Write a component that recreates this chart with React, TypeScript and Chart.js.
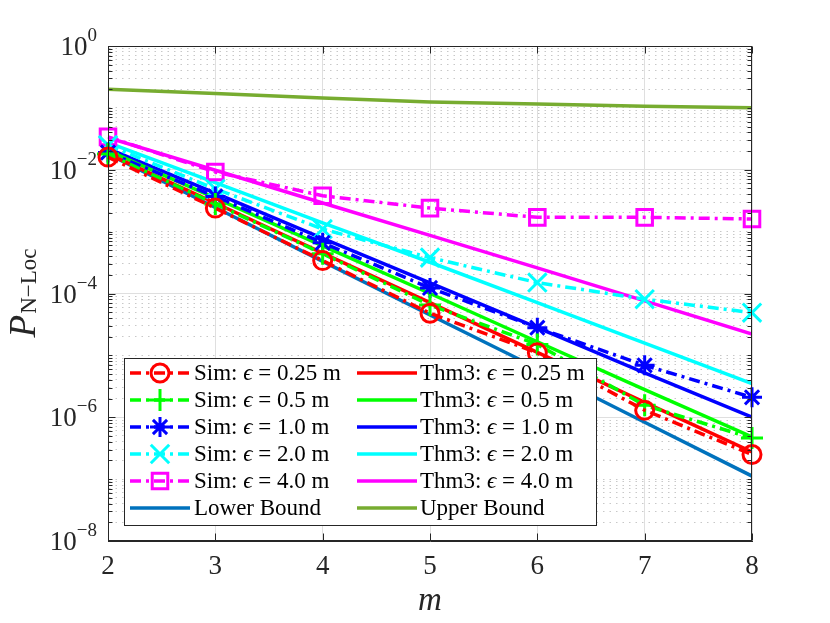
import { useEffect, useRef } from "react";
import { Chart, registerables } from "chart.js";
import { drawPoint } from "chart.js/helpers";

Chart.register(...registerables);

const SERIF = '"Liberation Serif", "DejaVu Serif", serif';
const AXIS = "#262626";

// x positions (m) and y decades that carry a label
const mValues = [2, 3, 4, 5, 6, 7, 8];
const yMajorExps = [0, -2, -4, -6, -8];

// simulation results
const sim025 = [0.016, 0.0024, 3.4e-4, 4.8e-5, 1.1e-5, 1.3e-6, 2.5e-7];
const sim05 = [0.018, 0.0028, 4.4e-4, 6.5e-5, 1.5e-5, 1.56e-6, 4.6e-7];
const sim10 = [0.019, 0.0037, 6.6e-4, 1.23e-4, 2.8e-5, 6.9e-6, 2.1e-6];
const sim20 = [0.025, 0.0049, 0.0011, 3.8e-4, 1.5e-4, 8.1e-5, 4.9e-5];
const sim40 = [0.034, 0.0092, 0.0038, 0.0024, 0.0017, 0.0017, 0.0016];

// Theorem 3
const thm025 = [0.018, 0.0029, 4.5e-4, 7.1e-5, 1.12e-5, 1.74e-6, 2.75e-7];
const thm05 = [0.0204, 0.00347, 5.9e-4, 1.0e-4, 1.66e-5, 2.8e-6, 4.8e-7];
const thm10 = [0.0219, 0.0042, 7.8e-4, 1.48e-4, 2.8e-5, 5.2e-6, 1.0e-6];
const thm20 = [0.0275, 0.0062, 0.00138, 3.2e-4, 7.1e-5, 1.58e-5, 3.5e-6];
const thm40 = [0.033, 0.0098, 0.0029, 8.7e-4, 2.6e-4, 7.6e-5, 2.2e-5];

// bounds
const lowerBound = [0.018, 0.00245, 3.3e-4, 4.5e-5, 6.2e-6, 8.3e-7, 1.12e-7];
const upperBound = [0.2, 0.17, 0.145, 0.125, 0.115, 0.106, 0.1];

const DASH_DOT = [11, 5, 3, 5];
const LW = 3.5;

function toPoints(ys: number[]) {
  return ys.map((y, i) => ({ x: mValues[i], y }));
}

function simSet(label: string, color: string, ys: number[], style: string, radius: number) {
  return {
    label,
    data: toPoints(ys),
    borderColor: color,
    borderWidth: LW,
    borderDash: DASH_DOT,
    pointStyle: style,
    pointRadius: radius,
    pointBorderWidth: 3,
    pointBorderColor: color,
    pointBackgroundColor: "rgba(0,0,0,0)",
    fill: false,
    clip: false,
    order: 0,
  };
}

function lineSet(label: string, color: string, ys: number[], order = 1) {
  return {
    label,
    data: toPoints(ys),
    borderColor: color,
    borderWidth: LW,
    pointRadius: 0,
    fill: false,
    order,
  };
}

const isMajorY = (v: number) => yMajorExps.some((e) => Math.abs(Math.log10(v) - e) < 1e-6);

function drawMathLabel(ctx: CanvasRenderingContext2D, label: string, x: number, y: number, size: number) {
  const parts = label.split("ϵ");
  let cx = x;
  parts.forEach((p, i) => {
    ctx.font = `${size}px ${SERIF}`;
    ctx.fillText(p, cx, y);
    cx += ctx.measureText(p).width;
    if (i < parts.length - 1) {
      ctx.font = `italic ${size}px ${SERIF}`;
      ctx.fillText("ϵ", cx, y);
      cx += ctx.measureText("ϵ").width;
    }
  });
}

const framePlugin = {
  id: "frameAndLegend",
  afterDatasetsDraw(chart: any) {
    const ctx: CanvasRenderingContext2D = chart.ctx;
    const { left, right, top, bottom } = chart.chartArea;
    const xs = chart.scales.x;
    const ys = chart.scales.y;
    ctx.save();
    ctx.strokeStyle = AXIS;
    ctx.lineWidth = 1;
    ctx.setLineDash([]);
    const L = Math.round(left) + 0.5, R = Math.round(right) - 0.5;
    const T = Math.round(top) + 0.5, B = Math.round(bottom) - 0.5;
    ctx.strokeRect(L, T, R - L, B - T);
    ctx.beginPath();
    mValues.forEach((v) => {
      const px = Math.round(xs.getPixelForValue(v)) + 0.5;
      ctx.moveTo(px, B);
      ctx.lineTo(px, B - 7);
      ctx.moveTo(px, T);
      ctx.lineTo(px, T + 7);
    });
    ys.ticks.forEach((t: any) => {
      const py = Math.round(ys.getPixelForValue(t.value)) + 0.5;
      const len = isMajorY(t.value) ? 7 : 4;
      ctx.moveTo(L, py);
      ctx.lineTo(L + len, py);
      ctx.moveTo(R, py);
      ctx.lineTo(R - len, py);
    });
    ctx.stroke();

    // legend
    const bx = 124, by = 358, bw = 472, bh = 167;
    ctx.fillStyle = "#ffffff";
    ctx.fillRect(bx, by, bw, bh);
    ctx.strokeStyle = AXIS;
    ctx.strokeRect(bx + 0.5, by + 0.5, bw, bh);
    const datasets = chart.data.datasets;
    const cols = [
      { lineX: 130, textX: 194, items: [0, 1, 2, 3, 4, 10] },
      { lineX: 357, textX: 420, items: [5, 6, 7, 8, 9, 11] },
    ];
    cols.forEach((col) => {
      col.items.forEach((idx, r) => {
        const ds = datasets[idx];
        const y = by + 15 + r * 27;
        ctx.save();
        ctx.strokeStyle = ds.borderColor;
        ctx.lineWidth = ds.borderWidth;
        ctx.setLineDash(ds.borderDash || []);
        ctx.beginPath();
        ctx.moveTo(col.lineX, y);
        ctx.lineTo(col.lineX + 60, y);
        ctx.stroke();
        ctx.setLineDash([]);
        if (ds.pointRadius > 0) {
          ctx.lineWidth = ds.pointBorderWidth;
          ctx.fillStyle = "rgba(0,0,0,0)";
          drawPoint(ctx, { pointStyle: ds.pointStyle, radius: ds.pointRadius, borderWidth: ds.pointBorderWidth, rotation: 0 } as any, col.lineX + 30, y);
        }
        ctx.restore();
        ctx.fillStyle = "#000000";
        ctx.textBaseline = "middle";
        ctx.textAlign = "left";
        drawMathLabel(ctx, ds.label, col.textX, y + 1, 23);
      });
    });
    ctx.restore();
  },
  afterDraw(chart: any) {
    const ctx: CanvasRenderingContext2D = chart.ctx;
    const ys = chart.scales.y;
    const left = chart.chartArea.left;
    ctx.save();
    ctx.fillStyle = AXIS;
    ctx.textBaseline = "alphabetic";
    ctx.textAlign = "left";
    yMajorExps.forEach((e) => {
      const py = ys.getPixelForValue(Math.pow(10, e));
      const expText = e === 0 ? "0" : "\u2212" + String(-e);
      ctx.font = `19px ${SERIF}`;
      const ew = ctx.measureText(expText).width;
      ctx.font = `27px ${SERIF}`;
      const bw = ctx.measureText("10").width;
      const xr = left - 11;
      ctx.fillText("10", xr - ew - bw, py + 9);
      ctx.font = `19px ${SERIF}`;
      ctx.fillText(expText, xr - ew, py - 5);
    });
    // y-axis title P_{N-Loc}
    const cy = (chart.chartArea.top + chart.chartArea.bottom) / 2;
    ctx.translate(35, cy);
    ctx.rotate(-Math.PI / 2);
    ctx.font = `italic 37px ${SERIF}`;
    const pw = ctx.measureText("P").width;
    ctx.font = `23px ${SERIF}`;
    const sw = ctx.measureText("N\u2212Loc").width;
    const start = -(pw + sw) / 2;
    ctx.font = `italic 37px ${SERIF}`;
    ctx.fillText("P", start, 0);
    ctx.font = `23px ${SERIF}`;
    ctx.fillText("N\u2212Loc", start + pw + 1, 1);
    ctx.restore();
  },
};

export default function App() {
  const canvasRef = useRef<HTMLCanvasElement>(null);

  useEffect(() => {
    const el = canvasRef.current;
    if (!el) return;

    const datasets: any[] = [
      simSet("Sim: ϵ = 0.25 m", "#ff0000", sim025, "circle", 9),
      simSet("Sim: ϵ = 0.5 m", "#00ff00", sim05, "cross", 11),
      simSet("Sim: ϵ = 1.0 m", "#0000ff", sim10, "star", 10),
      simSet("Sim: ϵ = 2.0 m", "#00ffff", sim20, "crossRot", 13),
      simSet("Sim: ϵ = 4.0 m", "#ff00ff", sim40, "rect", 11),
      lineSet("Thm3: ϵ = 0.25 m", "#ff0000", thm025),
      lineSet("Thm3: ϵ = 0.5 m", "#00ff00", thm05),
      lineSet("Thm3: ϵ = 1.0 m", "#0000ff", thm10),
      lineSet("Thm3: ϵ = 2.0 m", "#00ffff", thm20),
      lineSet("Thm3: ϵ = 4.0 m", "#ff00ff", thm40),
      lineSet("Lower Bound", "#0072bd", lowerBound, 2),
      lineSet("Upper Bound", "#77ac30", upperBound, 2),
    ];

    const minorTicks: number[] = [1];
    for (let e = -8; e < 0; e++) {
      for (let j = 1; j <= 9; j++) minorTicks.push(j * Math.pow(10, e));
    }

    const chart = new Chart(el, {
      type: "line",
      data: { datasets },
      options: {
        animation: false,
        responsive: true,
        maintainAspectRatio: false,
        layout: { padding: { top: 46, right: 78, left: 0, bottom: 0 } },
        plugins: { legend: { display: false }, tooltip: { enabled: false } },
        scales: {
          x: {
            type: "linear",
            min: 2,
            max: 8,
            afterBuildTicks: (s: any) => {
              s.ticks = mValues.map((v) => ({ value: v }));
            },
            afterFit: (s: any) => {
              s.height = 82;
            },
            grid: { color: "#dfdfdf", drawTicks: false },
            border: { color: AXIS, width: 1 },
            ticks: { font: { family: SERIF, size: 27 }, color: AXIS, padding: 10 },
            title: {
              display: true,
              text: "m",
              color: AXIS,
              font: { family: SERIF, size: 33, style: "italic" },
              padding: { top: 0, bottom: 2 },
            },
          },
          y: {
            type: "logarithmic",
            min: 1e-8,
            max: 1,
            afterBuildTicks: (s: any) => {
              s.ticks = minorTicks.map((v) => ({ value: v }));
            },
            afterFit: (s: any) => {
              s.width = 108;
            },
            grid: {
              drawTicks: false,
              color: (c: any) => (c.tick && !isMajorY(c.tick.value) ? "#c8c8c8" : "#dfdfdf"),
            },
            border: {
              color: AXIS,
              width: 1,
              dash: (c: any) => (c.tick && !isMajorY(c.tick.value) ? [1.5, 5] : []),
            },
            ticks: { display: false },
          },
        },
      },
      plugins: [framePlugin],
    } as any);

    return () => {
      chart.destroy();
    };
  }, []);

  return (
    <div style={{ position: "absolute", left: 0, top: 0, width: 830, height: 623, background: "#fff" }}>
      <canvas ref={canvasRef}></canvas>
    </div>
  );
}
